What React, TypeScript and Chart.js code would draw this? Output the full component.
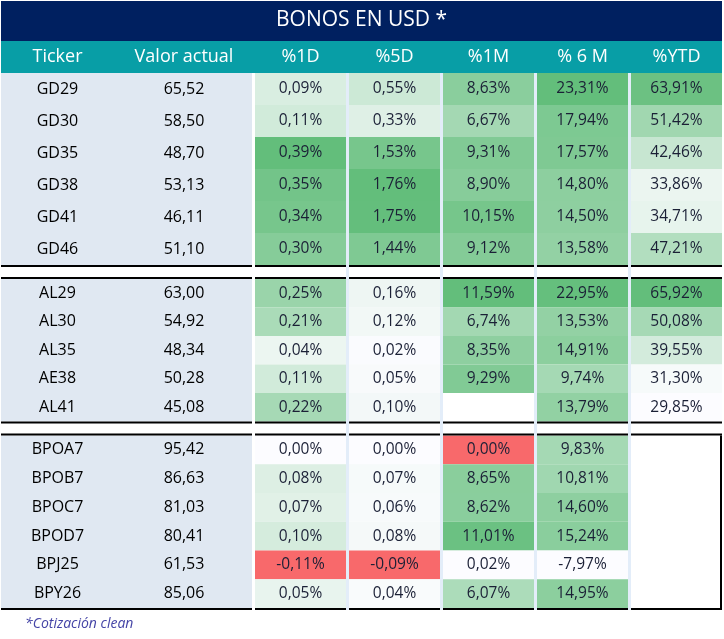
import React, { useEffect, useRef } from "react";
import { Chart, registerables } from "chart.js";

Chart.register(...registerables);

// ---------------- data ----------------
const TITLE = "BONOS EN USD *";
const HEADERS = ["Ticker", "Valor actual", "%1D", "%5D", "%1M", "% 6 M", "%YTD"];
const FOOTNOTE = "*Cotización clean";

const GROUP_GD = ["GD29", "GD30", "GD35", "GD38", "GD41", "GD46"];
const GROUP_AL = ["AL29", "AL30", "AL35", "AE38", "AL41"];
const GROUP_BP = ["BPOA7", "BPOB7", "BPOC7", "BPOD7", "BPJ25", "BPY26"];
const GROUPS = [GROUP_GD, GROUP_AL, GROUP_BP];

const VALOR_ACTUAL = [65.52, 58.5, 48.7, 53.13, 46.11, 51.1, 63.0, 54.92, 48.34, 50.28, 45.08, 95.42, 86.63, 81.03, 80.41, 61.53, 85.06];
const CHG_1D = [0.09, 0.11, 0.39, 0.35, 0.34, 0.3, 0.25, 0.21, 0.04, 0.11, 0.22, 0.0, 0.08, 0.07, 0.1, -0.11, 0.05];
const CHG_5D = [0.55, 0.33, 1.53, 1.76, 1.75, 1.44, 0.16, 0.12, 0.02, 0.05, 0.1, 0.0, 0.07, 0.06, 0.08, -0.09, 0.04];
const CHG_1M = [8.63, 6.67, 9.31, 8.9, 10.15, 9.12, 11.59, 6.74, 8.35, 9.29, null, 0.0, 8.65, 8.62, 11.01, 0.02, 6.07];
const CHG_6M = [23.31, 17.94, 17.57, 14.8, 14.5, 13.58, 22.95, 13.53, 14.91, 9.74, 13.79, 9.83, 10.81, 14.6, 15.24, -7.97, 14.95];
const CHG_YTD = [63.91, 51.42, 42.46, 33.86, 34.71, 47.21, 65.92, 50.08, 39.55, 31.3, 29.85, null, null, null, null, null, null];

// ---------------- styles / layout ----------------
const HEAT_SERIES = [CHG_1D, CHG_5D, CHG_1M, CHG_6M, CHG_YTD];
const HEAT_SCALE = ["diverging", "diverging", "diverging", "sequential", "sequential"];
const RED_OVERRIDES = [{ ticker: "BPOA7", col: 2 }]; // conditional-format red cell
const GREEN = [99, 190, 123];
const WHITE = [252, 252, 255];
const RED = [248, 105, 107];
const NAVY = "#002060";
const TEAL = "#089ea6";
const LEFT_BG = "#e0e8f2";
const GAP_BG = "#e3edf9";
const HEAT_TEXT = "#1b2036";
const FONT = '"Open Sans", "DejaVu Sans", sans-serif';

const W = 724;
const H = 639;
const LEFT = 1;
const RIGHT = 722;
const TITLE_BOTTOM = 41;
const HEADER_BOTTOM = 73;
const ROW_H = [32, 28.5, 28.75];
const LINE_W = 2;
const SEP_GAP = 10;
const COLS: [number, number][] = [
  [1, 114],
  [116, 252],
  [255, 346],
  [349, 440],
  [443, 534],
  [537, 628],
  [631, 722],
];

function mix(a: number[], b: number[], t: number) {
  const c = a.map((v, i) => Math.round(v + (b[i] - v) * t));
  return `rgb(${c[0]},${c[1]},${c[2]})`;
}

function fmt(v: number, pct: boolean) {
  const s = v.toFixed(2).replace(".", ",");
  return pct ? s + "%" : s;
}

function heatColor(col: number, v: number | null, ticker: string) {
  if (RED_OVERRIDES.some((o) => o.ticker === ticker && o.col === col)) return mix(WHITE, RED, 1);
  if (v === null) return "#ffffff";
  const vals = HEAT_SERIES[col].filter((x) => x !== null) as number[];
  const mn = Math.min(...vals);
  const mx = Math.max(...vals);
  if (HEAT_SCALE[col] === "diverging") {
    if (v > 0) return mix(WHITE, GREEN, v / mx);
    if (v < 0) return mix(WHITE, RED, v / mn);
    return mix(WHITE, GREEN, 0);
  }
  return mix(WHITE, GREEN, (v - mn) / (mx - mn));
}

const tablePlugin = {
  id: "bondTable",
  afterDraw(chart: any) {
    const { ctx } = chart;
    const xs = chart.scales.x;
    const ys = chart.scales.y;
    const X = (v: number) => xs.getPixelForValue(v);
    const Y = (v: number) => ys.getPixelForValue(v);
    const rect = (x0: number, y0: number, x1: number, y1: number, color: string) => {
      ctx.fillStyle = color;
      ctx.fillRect(X(x0), Y(y0), X(x1) - X(x0), Y(y1) - Y(y0));
    };
    const text = (s: string, cx: number, cy: number, font: string, color: string, align: CanvasTextAlign = "center") => {
      ctx.font = font;
      ctx.fillStyle = color;
      ctx.textAlign = align;
      ctx.textBaseline = "middle";
      ctx.fillText(s, X(cx), Y(cy));
    };

    ctx.save();
    // title band
    rect(LEFT, 1, RIGHT, TITLE_BOTTOM, NAVY);
    text(TITLE, (LEFT + RIGHT) / 2, 20.5, `21px ${FONT}`, "#ffffff");
    // header band
    rect(LEFT, TITLE_BOTTOM, RIGHT, HEADER_BOTTOM, TEAL);
    HEADERS.forEach((h, i) => {
      const [a, b] = COLS[i];
      text(h, (a + b) / 2, 57, `18px ${FONT}`, "#ffffff");
    });

    // row layout
    const rows: { ticker: string; idx: number; y0: number; y1: number }[] = [];
    const groupSpans: [number, number][] = [];
    let y = HEADER_BOTTOM;
    let idx = 0;
    GROUPS.forEach((g, gi) => {
      if (gi > 0) y += LINE_W * 2 + SEP_GAP;
      const start = y;
      g.forEach((t) => {
        rows.push({ ticker: t, idx, y0: y, y1: y + ROW_H[gi] });
        y += ROW_H[gi];
        idx++;
      });
      groupSpans.push([start, y]);
    });
    const bottom = y + LINE_W;

    // gaps between heat columns
    for (let c = 2; c < COLS.length - 1; c++) {
      rect(COLS[c][1], HEADER_BOTTOM, COLS[c + 1][0], bottom, GAP_BG);
    }

    // left columns background
    groupSpans.forEach(([a, b]) => rect(LEFT, a, COLS[1][1], b, LEFT_BG));

    // cells
    rows.forEach((r) => {
      const cy = (r.y0 + r.y1) / 2;
      text(r.ticker, (COLS[0][0] + COLS[0][1]) / 2, cy, `16px ${FONT}`, "#000000");
      text(fmt(VALOR_ACTUAL[r.idx], false), (COLS[1][0] + COLS[1][1]) / 2, cy, `16px ${FONT}`, "#000000");
      HEAT_SERIES.forEach((series, c) => {
        const v = series[r.idx];
        const [a, b] = COLS[c + 2];
        rect(a, r.y0, b, r.y1, heatColor(c, v, r.ticker));
        if (v !== null) text(fmt(v, true), (a + b) / 2, cy, `15.5px ${FONT}`, HEAT_TEXT);
      });
    });

    // black separator lines
    const segs: [number, number][] = [[LEFT, COLS[1][1]], ...COLS.slice(2)];
    groupSpans.forEach(([a, b], gi) => {
      segs.forEach(([x0, x1]) => {
        if (gi > 0) rect(x0, a - LINE_W, x1, a, "#000000");
        rect(x0, b, x1, b + LINE_W, "#000000");
      });
    });
    // right border of the empty last block
    const last = groupSpans[groupSpans.length - 1];
    rect(RIGHT - 2, last[0], RIGHT, last[1] + LINE_W, "#000000");

    // footnote
    text(FOOTNOTE, 25, 624, `italic 14px ${FONT}`, "#4444a6", "left");
    ctx.restore();
  },
};

export default function App() {
  const ref = useRef<HTMLCanvasElement | null>(null);
  useEffect(() => {
    document.body.style.margin = "0";
    const canvas = ref.current;
    if (!canvas) return;
    const chart = new Chart(canvas, {
      type: "scatter",
      data: { datasets: [] },
      options: {
        animation: false,
        responsive: false,
        devicePixelRatio: 1,
        layout: { padding: 0 },
        plugins: { legend: { display: false }, tooltip: { enabled: false } },
        scales: {
          x: { type: "linear", min: 0, max: W, display: false },
          y: { type: "linear", min: 0, max: H, reverse: true, display: false },
        },
      },
      plugins: [tablePlugin],
    } as any);
    return () => chart.destroy();
  }, []);
  return (
    <div style={{ width: W, height: H, background: "#ffffff" }}>
      <canvas ref={ref} width={W} height={H} style={{ display: "block" }} />
    </div>
  );
}
